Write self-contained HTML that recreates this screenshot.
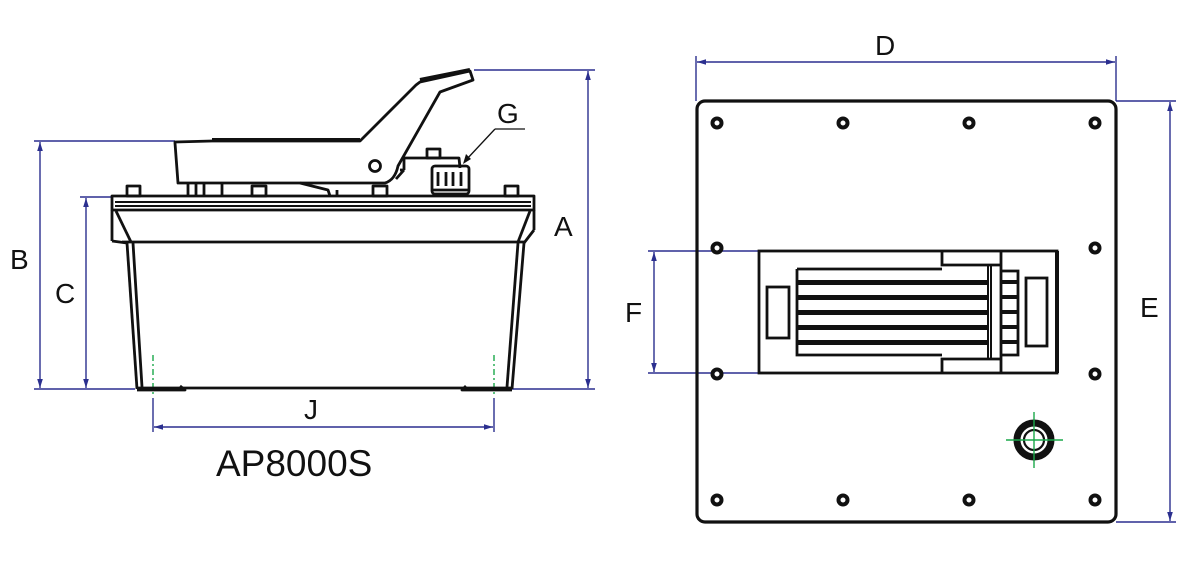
<!DOCTYPE html>
<html><head><meta charset="utf-8"><style>
html,body{margin:0;padding:0;background:#fff;}
svg{display:block;}
text{font-family:"Liberation Sans",sans-serif;fill:#111;}
</style></head><body>
<svg width="1200" height="561" viewBox="0 0 1200 561" xmlns="http://www.w3.org/2000/svg">
<defs>
<marker id="ar" markerWidth="10" markerHeight="8" refX="9" refY="4" orient="auto-start-reverse" markerUnits="userSpaceOnUse">
<path d="M0,1.2 L9,4 L0,6.8 Z" fill="#2b2f8f" stroke="none"/>
</marker>
</defs>
<g stroke="#2b2f8f" stroke-width="1.4" fill="none">
<line x1="474" y1="70" x2="595" y2="70"/>
<line x1="512" y1="389" x2="595" y2="389"/>
<line x1="588" y1="71" x2="588" y2="388" marker-start="url(#ar)" marker-end="url(#ar)"/>
<line x1="34" y1="141" x2="175" y2="141"/>
<line x1="34" y1="389" x2="135" y2="389"/>
<line x1="40" y1="142" x2="40" y2="388" marker-start="url(#ar)" marker-end="url(#ar)"/>
<line x1="80" y1="197" x2="112" y2="197"/>
<line x1="86" y1="198" x2="86" y2="388" marker-start="url(#ar)" marker-end="url(#ar)"/>
<line x1="153" y1="398" x2="153" y2="432"/>
<line x1="494" y1="398" x2="494" y2="432"/>
<line x1="154" y1="427" x2="493" y2="427" marker-start="url(#ar)" marker-end="url(#ar)"/>
<line x1="696" y1="56" x2="696" y2="101"/>
<line x1="1116" y1="56" x2="1116" y2="101"/>
<line x1="697" y1="62" x2="1115" y2="62" marker-start="url(#ar)" marker-end="url(#ar)"/>
<line x1="1116" y1="101" x2="1176" y2="101"/>
<line x1="1116" y1="522" x2="1176" y2="522"/>
<line x1="1170" y1="102" x2="1170" y2="521" marker-start="url(#ar)" marker-end="url(#ar)"/>
<line x1="648" y1="251" x2="760" y2="251"/>
<line x1="648" y1="373" x2="760" y2="373"/>
<line x1="654" y1="252" x2="654" y2="372" marker-start="url(#ar)" marker-end="url(#ar)"/>
</g>
<g stroke="#1aa84a" stroke-width="1.4" stroke-dasharray="6,3,2,3">
<line x1="153" y1="355" x2="153" y2="396"/>
<line x1="494" y1="355" x2="494" y2="396"/>
</g>

<g stroke="#111" stroke-width="2.8" fill="none" stroke-linejoin="round">
<rect x="112" y="196" width="422" height="14"/>
<line x1="115" y1="202" x2="531" y2="202" stroke-width="2"/>
<line x1="115" y1="206" x2="531" y2="206" stroke-width="2"/>
<line x1="112" y1="210" x2="112" y2="241"/>
<line x1="534" y1="210" x2="534" y2="230"/>
<line x1="112" y1="241" x2="127" y2="243"/>
<line x1="116" y1="211" x2="131" y2="242"/>
<line x1="530" y1="211" x2="518" y2="242"/>
<line x1="534" y1="230" x2="524" y2="243"/>
<line x1="122" y1="242" x2="524" y2="242"/>
<line x1="127" y1="243" x2="137" y2="389"/>
<line x1="133" y1="243" x2="142" y2="387"/>
<line x1="524" y1="243" x2="512" y2="389"/>
<line x1="518" y1="243" x2="507" y2="387"/>
<line x1="137" y1="388" x2="512" y2="388"/>
<path d="M137,390 H185 L180,386 M512,390 H462 L466,386"/>
<rect x="127" y="186" width="13" height="10"/>
<rect x="252" y="186" width="14" height="10"/>
<rect x="373" y="186" width="14" height="10"/>
<rect x="505" y="186" width="13" height="10"/>
<path d="M175,143 L178,183 L385,183 Q395,180 398,166 L440,92 L473,80 L470,71 L420,82 L416,85 L360,141 L212,141 L175,142 Z"/>
<path d="M212,140 L360,140 M420,80 L470,70" stroke-width="4"/>
<circle cx="375" cy="166" r="5.5"/>
<line x1="188" y1="183" x2="188" y2="196"/>
<line x1="196" y1="183" x2="196" y2="196"/>
<line x1="204" y1="183" x2="204" y2="196"/>
<line x1="222" y1="183" x2="222" y2="196"/>
<path d="M300,183 L328,190 L330,196 M337,190 L337,196"/>
<path d="M404,158 L404,170 M402,158 H459 L460,168"/>
<path d="M404,170 L400,170 M396,179 L404,170"/>
<rect x="427" y="149" width="13" height="9"/>
<rect x="432" y="166" width="37" height="28" rx="3"/>
<line x1="438" y1="172" x2="438" y2="186"/>
<line x1="446" y1="172" x2="446" y2="186"/>
<line x1="453" y1="172" x2="453" y2="186"/>
<line x1="461" y1="172" x2="461" y2="186"/>
<line x1="433" y1="190" x2="468" y2="190"/>
</g>
<line x1="525" y1="129" x2="495" y2="129" stroke="#111" stroke-width="1.3"/>
<line x1="495" y1="129" x2="466" y2="160" stroke="#111" stroke-width="1.3"/>
<path d="M463,164 L466,154 L471,159 Z" fill="#111"/>

<rect x="697" y="101" width="419" height="421" rx="8" fill="none" stroke="#111" stroke-width="3.2"/>
<g fill="#fff" stroke="#111" stroke-width="4">
<circle cx="717" cy="123" r="4.5"/><circle cx="843" cy="123" r="4.5"/><circle cx="969" cy="123" r="4.5"/><circle cx="1095" cy="123" r="4.5"/>
<circle cx="717" cy="500" r="4.5"/><circle cx="843" cy="500" r="4.5"/><circle cx="969" cy="500" r="4.5"/><circle cx="1095" cy="500" r="4.5"/>
<circle cx="717" cy="248" r="4.5"/><circle cx="1095" cy="248" r="4.5"/>
<circle cx="717" cy="374" r="4.5"/><circle cx="1095" cy="374" r="4.5"/>
</g>
<g stroke="#111" stroke-width="2.8" fill="none">
<rect x="759" y="251" width="298" height="122"/>
<line x1="1057" y1="251" x2="1057" y2="373" stroke-width="4"/>
<rect x="767" y="287" width="22" height="51"/>
<rect x="1026" y="278" width="21" height="68"/>
<path d="M942,251 V265 H1000 M942,373 V359 H1000"/>
<line x1="1001" y1="251" x2="1001" y2="373"/>
<path d="M797,269 H942 M797,269 V355 H942"/>
<line x1="988" y1="265" x2="988" y2="359" stroke-width="2"/>
<line x1="991" y1="265" x2="991" y2="359" stroke-width="2"/>
<path d="M1001,271 H1018 V355 H1001"/>
</g>
<g fill="#111">
<rect x="797" y="280" width="191" height="5"/>
<rect x="797" y="295" width="191" height="5"/>
<rect x="797" y="310" width="191" height="5"/>
<rect x="797" y="325" width="191" height="5"/>
<rect x="797" y="340" width="191" height="5"/>
<rect x="1001" y="280" width="17" height="4"/>
<rect x="1001" y="295" width="17" height="4"/>
<rect x="1001" y="310" width="17" height="4"/>
<rect x="1001" y="325" width="17" height="4"/>
<rect x="1001" y="340" width="17" height="4"/>
</g>
<circle cx="1034" cy="440" r="17" fill="none" stroke="#111" stroke-width="7"/>
<circle cx="1034" cy="440" r="10" fill="none" stroke="#111" stroke-width="2.2"/>
<g stroke="#1aa84a" stroke-width="1.4">
<line x1="1006" y1="440" x2="1063" y2="440"/>
<line x1="1034" y1="412" x2="1034" y2="468"/>
</g>

<g font-size="28">
<text x="554" y="236">A</text>
<text x="10" y="269">B</text>
<text x="55" y="303">C</text>
<text x="304" y="419">J</text>
<text x="497" y="123">G</text>
<text x="875" y="55">D</text>
<text x="1140" y="317">E</text>
<text x="625" y="322">F</text>
</g>
<text x="216" y="476" font-size="37">AP8000S</text>
</svg>
</body></html>
